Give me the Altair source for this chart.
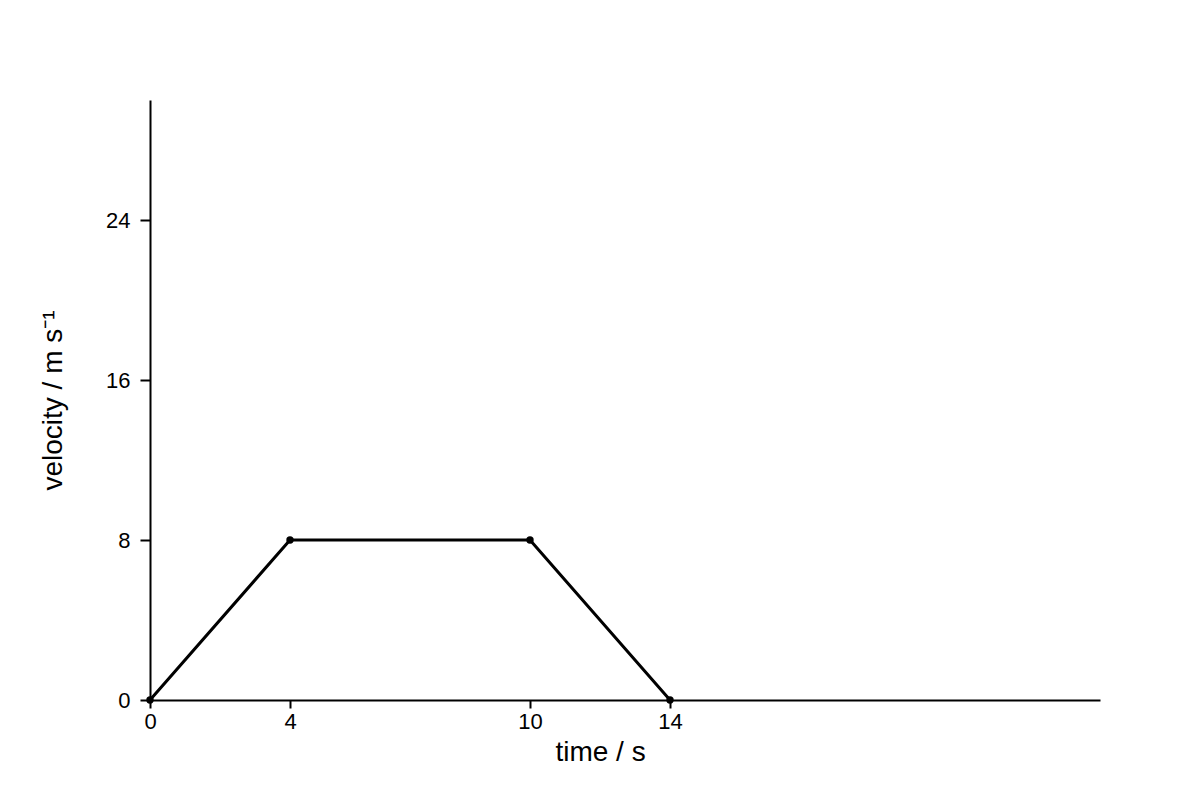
import altair as alt
import pandas as pd

time_s = [0, 4, 10, 14]
velocity = [0, 8, 8, 0]
x_ticks = [0, 4, 10, 14]
y_ticks = [0, 8, 16, 24]

df = pd.DataFrame({"t": time_s, "v": velocity})

FONT = "Liberation Sans"

xscale = alt.Scale(domain=[0, 4, 10, 14, 26], range=[0, 140, 380, 520, 950], clamp=False)
yscale = alt.Scale(domain=[0, 30], nice=False, zero=True)

xenc = alt.X("t:Q", scale=xscale,
             axis=alt.Axis(values=x_ticks, title="time / s", grid=False,
                           domainColor="black", domainWidth=2, tickColor="black", tickWidth=2,
                           tickSize=8, labelPadding=3, labelFontSize=22, labelColor="black",
                           labelFont=FONT, titleFont=FONT, titleFontSize=28, titleFontWeight="normal",
                           titleColor="black", titleX=450, titleY=60, titleBaseline="alphabetic",
                           titleAlign="center", labelFlush=False))
yenc = alt.Y("v:Q", scale=yscale,
             axis=alt.Axis(values=y_ticks, title="velocity / m s⁻¹", grid=False,
                           domainColor="black", domainWidth=2, tickColor="black", tickWidth=2,
                           tickSize=10, labelPadding=10, labelFontSize=22, labelColor="black",
                           labelFont=FONT, titleFont=FONT, titleFontSize=28, titleFontWeight="normal",
                           titleColor="black", titleX=-89, titleY=300, titleAngle=270,
                           titleBaseline="alphabetic", titleAlign="center", labelFlush=False))

line = alt.Chart(df).mark_line(color="black", strokeWidth=3).encode(x=xenc, y=yenc)
pts = alt.Chart(df).mark_circle(color="black", size=55, opacity=1).encode(x="t:Q", y="v:Q")

chart = (line + pts).properties(
    width=950, height=600,
    autosize=alt.AutoSizeParams(type="none"),
    padding={"left": 142, "top": 92, "right": 92, "bottom": 92},
    background="white",
).configure_view(stroke=None)

chart.save("out.html", embed_options={"renderer": "svg", "actions": False})
